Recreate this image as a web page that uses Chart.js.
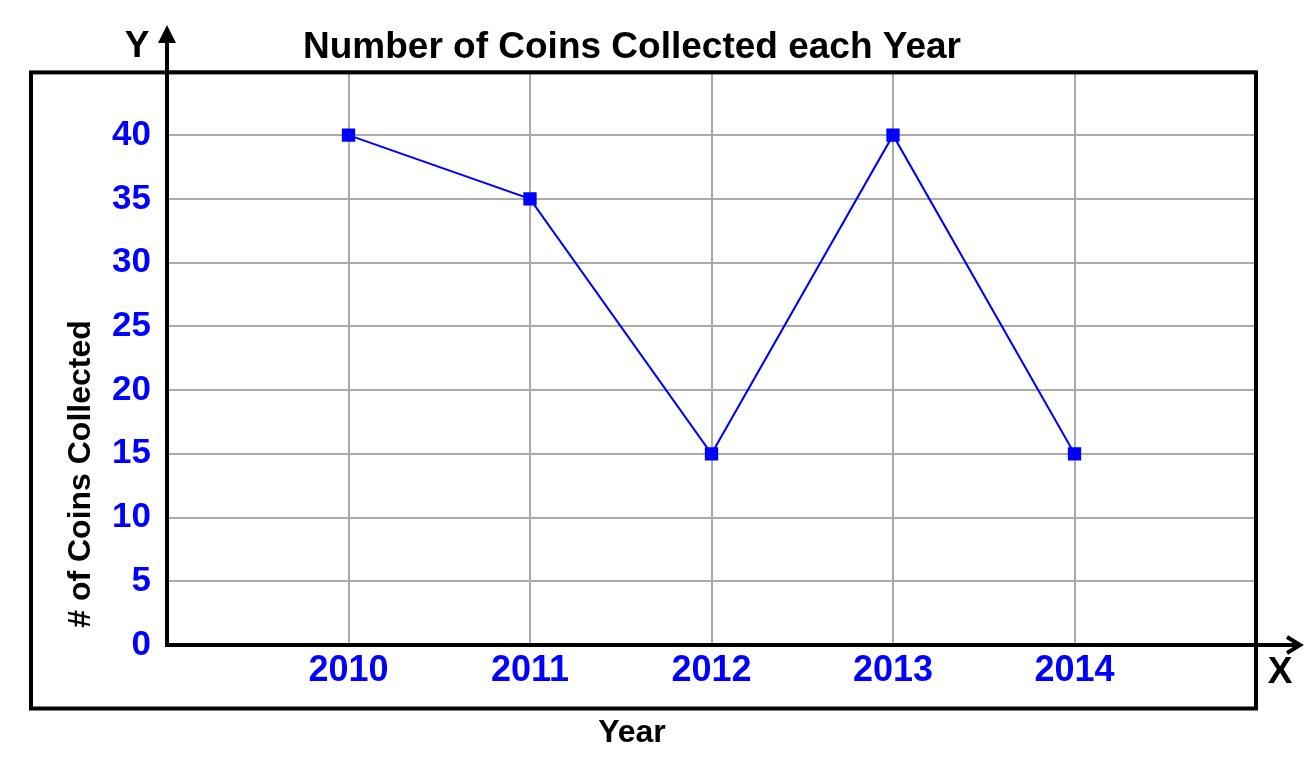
<!DOCTYPE html>
<html>
<head>
<meta charset="utf-8">
<script src="https://cdn.jsdelivr.net/npm/chart.js@4/dist/chart.umd.min.js"></script>
<style>
  body { margin: 0; background: #fff; }
  #chart { display: block; }
</style>
</head>
<body>
<canvas id="chart" width="1315" height="760"></canvas>
<script>
var years = [2010, 2011, 2012, 2013, 2014];
var coins = [40, 35, 15, 40, 15];
var yTicks = [0, 5, 10, 15, 20, 25, 30, 35, 40];

var FONT = '"Liberation Sans", Arial, sans-serif';

var points = [];
for (var i = 0; i < years.length; i++) {
  points.push({ x: years[i], y: coins[i] });
}

// box, arrows and axis titles
var frame = {
  id: 'frame',
  afterDraw: function(chart) {
    var ctx = chart.ctx;
    var a = chart.chartArea;
    ctx.save();
    ctx.strokeStyle = '#000';
    ctx.fillStyle = '#000';

    ctx.lineWidth = 4;
    ctx.strokeRect(31, a.top + 1, a.right - 31, 708.5 - a.top - 1);

    // y axis with filled arrow
    ctx.beginPath();
    ctx.moveTo(a.left, a.bottom + 2);
    ctx.lineTo(a.left, 40);
    ctx.stroke();
    ctx.beginPath();
    ctx.moveTo(a.left, 25);
    ctx.lineTo(a.left - 9, 43);
    ctx.lineTo(a.left + 9, 43);
    ctx.closePath();
    ctx.fill();

    // x axis with open arrow
    ctx.beginPath();
    ctx.moveTo(a.left - 2, a.bottom);
    ctx.lineTo(1300, a.bottom);
    ctx.stroke();
    ctx.beginPath();
    ctx.moveTo(1287, a.bottom - 8);
    ctx.lineTo(1300, a.bottom);
    ctx.lineTo(1287, a.bottom + 8);
    ctx.stroke();

    ctx.textAlign = 'center';
    ctx.textBaseline = 'middle';
    ctx.font = 'bold 37px ' + FONT;
    ctx.fillText('Y', 137, 47);
    ctx.fillText('X', 1280, 673);

    ctx.font = 'bold 32px ' + FONT;
    ctx.fillText('Year', 632, 733);

    ctx.translate(81, 474);
    ctx.rotate(-Math.PI / 2);
    ctx.fillText('# of Coins Collected', 0, 0);
    ctx.restore();
  }
};

new Chart(document.getElementById('chart'), {
  type: 'line',
  data: {
    datasets: [{
      data: points,
      borderColor: '#0000ff',
      backgroundColor: '#0000ff',
      borderWidth: 2,
      pointStyle: 'rect',
      pointRadius: 8,
      pointHoverRadius: 8,
      tension: 0
    }]
  },
  options: {
    responsive: false,
    animation: false,
    layout: { padding: { left: 8, right: 59, top: 0, bottom: 0 } },
    plugins: {
      legend: { display: false },
      tooltip: { enabled: false },
      title: {
        display: true,
        text: 'Number of Coins Collected each Year',
        color: '#000',
        font: { family: FONT, size: 37, weight: 'bold' },
        padding: { top: 26, bottom: 1 }
      }
    },
    scales: {
      x: {
        type: 'linear',
        min: years[0] - 1,
        max: years[years.length - 1] + 1,
        afterFit: function(s) { s.height = 115; },
        border: { display: false },
        grid: { color: '#aaaaaa', lineWidth: 2, drawTicks: false },
        ticks: {
          stepSize: 1,
          padding: 4,
          color: '#0000ff',
          font: { family: FONT, size: 36, weight: 'bold' },
          callback: function(v) { return years.indexOf(v) >= 0 ? String(v) : ''; }
        }
      },
      y: {
        min: 0,
        max: 45,
        afterFit: function(s) { s.width = 159; },
        border: { display: false },
        grid: { color: '#aaaaaa', lineWidth: 2, drawTicks: false },
        ticks: {
          stepSize: 5,
          padding: 16,
          color: '#0000ff',
          font: { family: FONT, size: 35, weight: 'bold' },
          callback: function(v) { return yTicks.indexOf(v) >= 0 ? String(v) : ''; }
        }
      }
    }
  },
  plugins: [frame]
});
</script>
</body>
</html>
